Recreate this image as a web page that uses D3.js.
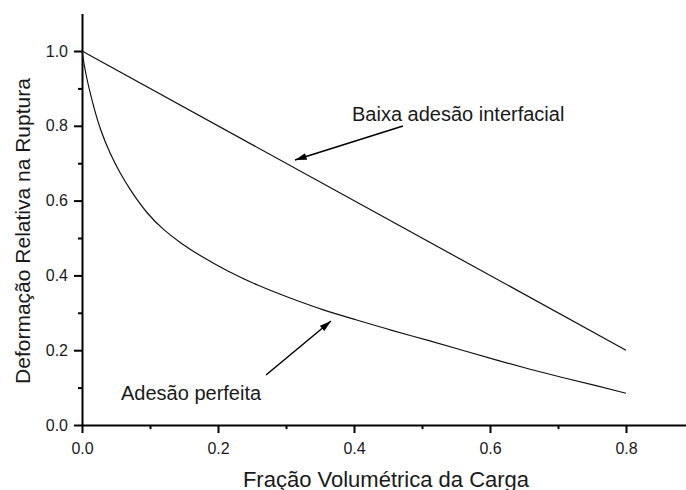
<!DOCTYPE html>
<html>
<head>
<meta charset="utf-8">
<script src="https://cdn.jsdelivr.net/npm/d3@7"></script>
<style>
  body { margin: 0; background: #fff; }
  svg { display: block; font-family: "Liberation Sans", Arial, sans-serif; }
</style>
</head>
<body>
<svg id="chart" width="686" height="490"></svg>
<script>
// values
var fracao = [0, 0.005, 0.017, 0.027, 0.041, 0.056, 0.071, 0.095, 0.12, 0.147, 0.174, 0.215, 0.257, 0.306, 0.355, 0.404, 0.453, 0.51, 0.561, 0.61, 0.659, 0.708, 0.757, 0.8];
var adesaoPerfeita = [1.0, 0.94, 0.851, 0.789, 0.726, 0.673, 0.628, 0.566, 0.521, 0.484, 0.452, 0.41, 0.374, 0.339, 0.307, 0.281, 0.254, 0.226, 0.199, 0.173, 0.149, 0.126, 0.105, 0.085];
var fracaoBaixa = [0, 0.8];
var baixaAdesao = [1.0, 0.2];
var xTicks = [0, 0.2, 0.4, 0.6, 0.8];
var yTicks = [0, 0.2, 0.4, 0.6, 0.8, 1.0];
var xMinor = [0.1, 0.3, 0.5, 0.7];
var yMinor = [0.1, 0.3, 0.5, 0.7, 0.9];

var svg = d3.select("svg#chart"),
    margin = {left: 82, top: 14, bottom: 65},
    width = 686, height = 490;

var x = d3.scaleLinear().domain([0, 0.89]).range([margin.left, margin.left + 0.89 * 680]);
var y = d3.scaleLinear().domain([0, 1.1]).range([height - margin.bottom, height - margin.bottom - 1.1 * 374]);

var fmt = d3.format(".1f");

// minor ticks first, then major axis on top
svg.append("g")
    .attr("transform", "translate(0," + y(0) + ")")
    .call(d3.axisBottom(x).tickValues(xMinor).tickSize(4).tickFormat(""))
    .call(function(g) { g.select(".domain").remove(); });
svg.append("g")
    .attr("transform", "translate(" + x(0) + ",0)")
    .call(d3.axisLeft(y).tickValues(yMinor).tickSize(4).tickFormat(""))
    .call(function(g) { g.select(".domain").remove(); });

var xAxis = svg.append("g")
    .attr("transform", "translate(0," + y(0) + ")")
    .call(d3.axisBottom(x).tickValues(xTicks).tickSize(8).tickSizeOuter(0).tickPadding(10).tickFormat(fmt));

var yAxis = svg.append("g")
    .attr("transform", "translate(" + x(0) + ",0)")
    .call(d3.axisLeft(y).tickValues(yTicks).tickSize(8).tickSizeOuter(0).tickPadding(6).tickFormat(fmt));

svg.selectAll(".tick line").attr("stroke", "#000").attr("stroke-width", 2);
svg.selectAll(".domain").attr("stroke", "#000").attr("stroke-width", 2);
svg.selectAll(".tick text")
    .attr("fill", "#1a1a1a")
    .style("font-size", "16px")
    .style("font-family", "'Liberation Sans', Arial, sans-serif");

// axis titles
svg.append("text")
    .attr("x", 386)
    .attr("y", 487)
    .attr("text-anchor", "middle")
    .attr("fill", "#1a1a1a")
    .style("font-size", "22px")
    .text("Fração Volumétrica da Carga");

svg.append("text")
    .attr("transform", "translate(30,231) rotate(-90)")
    .attr("text-anchor", "middle")
    .attr("fill", "#1a1a1a")
    .style("font-size", "21px")
    .text("Deformação Relativa na Ruptura");

// curves
var line = d3.line()
    .x(function(d) { return x(d[0]); })
    .y(function(d) { return y(d[1]); });

svg.append("path")
    .datum(d3.zip(fracaoBaixa, baixaAdesao))
    .attr("fill", "none")
    .attr("stroke", "#111")
    .attr("stroke-width", 1.2)
    .attr("d", line);

// basis spline smooths out small reading errors
svg.append("path")
    .datum(d3.zip(fracao, adesaoPerfeita))
    .attr("fill", "none")
    .attr("stroke", "#111")
    .attr("stroke-width", 1.2)
    .attr("d", line.curve(d3.curveBasis));

// annotations with arrows
svg.append("defs").append("marker")
    .attr("id", "seta")
    .attr("viewBox", "0 0 10 6")
    .attr("refX", 10).attr("refY", 3)
    .attr("markerWidth", 12).attr("markerHeight", 7)
    .attr("markerUnits", "userSpaceOnUse")
    .attr("orient", "auto")
  .append("path")
    .attr("d", "M0,0L10,3L0,6Z")
    .attr("fill", "#000");

var notas = [
  {texto: "Baixa adesão interfacial", tx: 352, ty: 121, from: [403, 126], to: [295, 160]},
  {texto: "Adesão perfeita", tx: 121, ty: 400, from: [266, 375], to: [331, 321]}
];

notas.forEach(function(n) {
  svg.append("text")
      .attr("x", n.tx).attr("y", n.ty)
      .attr("fill", "#1a1a1a")
      .style("font-size", "20px")
      .text(n.texto);
  svg.append("line")
      .attr("x1", n.from[0]).attr("y1", n.from[1])
      .attr("x2", n.to[0]).attr("y2", n.to[1])
      .attr("stroke", "#000")
      .attr("stroke-width", 1.5)
      .attr("marker-end", "url(#seta)");
});
</script>
</body>
</html>
